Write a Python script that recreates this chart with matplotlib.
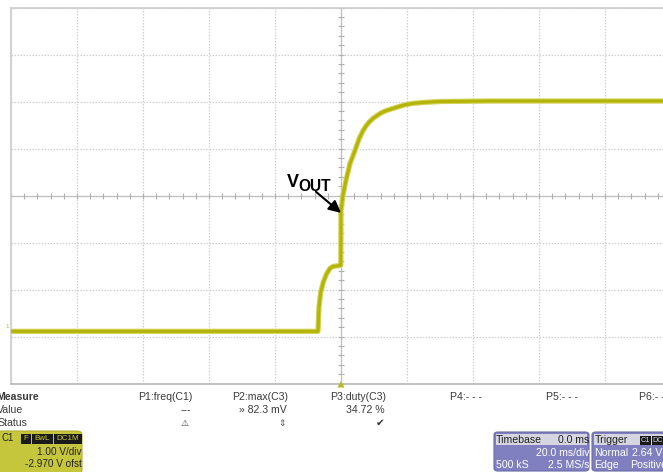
import matplotlib
matplotlib.use("Agg")
import matplotlib.pyplot as plt
import numpy as np
from matplotlib.patches import FancyBboxPatch, Rectangle, Polygon

W, H = 663, 472
plt.rcParams['font.family'] = ['Liberation Sans', 'DejaVu Sans']

time_ms = [-100, -6.97, -6.67, -6.15, -5.36, -4.33, -3.33, -2.42, -0.52, -0.05,
           0.0, 0.6, 1.5, 2.73, 4.24, 5.4, 6.67, 7.6, 8.5, 9.7, 10.9, 12.2, 13.5, 15.2,
           17.0, 19.4, 21.8, 25.0, 30.0, 45.0, 100]
volts = [0.08, 0.08, 0.60, 0.91, 1.13, 1.31, 1.42, 1.46, 1.48, 1.49,
         2.65, 2.98, 3.29, 3.65, 3.93, 4.16, 4.35, 4.45, 4.53, 4.61, 4.67, 4.73, 4.77, 4.81,
         4.85, 4.90, 4.93, 4.95, 4.97, 4.98, 4.98]

ms_per_div = 20.0
v_per_div = 1.00
offset_v = 2.970

measure_labels = ["P1:freq(C1)", "P2:max(C3)", "P3:duty(C3)", "P4:- - -", "P5:- - -", "P6:- - -"]
measure_values = ["---", "» 82.3 mV", "34.72 %", "", "", ""]

fig = plt.figure(figsize=(W / 100, H / 100), dpi=100)
fig.patch.set_facecolor('white')

def fx(x):
    return x / W

def fy(y):
    return 1 - y / H

left, top, right, bottom = 11, 7.5, 671, 383.5
ax = fig.add_axes([fx(left), fy(bottom), (right - left) / W, (bottom - top) / H])
x_lo, x_hi = -5 * ms_per_div, 5 * ms_per_div
y_lo, y_hi = offset_v - 4 * v_per_div, offset_v + 4 * v_per_div
ax.set_xlim(x_lo, x_hi)
ax.set_ylim(y_lo, y_hi)
ax.set_xticks(np.arange(x_lo, x_hi + 0.01, ms_per_div))
ax.set_yticks(y_lo + np.arange(0, 9) * v_per_div)
ax.tick_params(length=0, labelbottom=False, labelleft=False)
ax.grid(True, color='#d0d0d0', linestyle=(0, (1.2, 1.2)), linewidth=0.9)
for s in ['left', 'top']:
    ax.spines[s].set_color('#cccccc')
    ax.spines[s].set_linewidth(1.2)
ax.spines['bottom'].set_color('#b8b8b8')
ax.spines['bottom'].set_linewidth(1.2)
ax.spines['right'].set_visible(False)

# center axes with minor ticks
ax.axhline(offset_v, color='#c0c0c0', lw=0.9)
ax.axvline(0, color='#c0c0c0', lw=0.9)
xt = np.arange(x_lo, x_hi + 0.01, ms_per_div / 5)
ax.plot(xt, np.full_like(xt, offset_v), linestyle='none', marker='|', ms=4, mew=0.8, color='#b0b0b0')
yt = np.arange(y_lo, y_hi + 0.01, v_per_div / 5)
ax.plot(np.zeros_like(yt), yt, linestyle='none', marker='_', ms=4, mew=0.8, color='#b0b0b0')

# trace
ax.plot(time_ms, volts, color='#d2d25a', lw=3.8, solid_joinstyle='round', solid_capstyle='butt', zorder=5)
ax.plot(time_ms, volts, color='#b4b406', lw=2.2, solid_joinstyle='round', zorder=6)

# annotation arrow
ax.annotate('', xy=(0.0, 2.60), xytext=(-7.6, 3.05),
            arrowprops=dict(arrowstyle='-|>', color='black', lw=1.5, mutation_scale=18,
                            shrinkA=0, shrinkB=0), zorder=8)
fig.text(fx(286.5), fy(187), 'V', fontsize=13, fontweight='bold', color='black', ha='left', va='baseline')
fig.text(fx(298), fy(191), 'OUT', fontsize=11.2, fontweight='bold', color='black', ha='left', va='baseline')

# channel marker
fig.text(fx(5), fy(327), '1', fontsize=4.5, color='#b8b830', ha='left', va='center')

# trigger marker
fig.patches.append(Polygon([[fx(337.5), fy(387.5)], [fx(344.5), fy(387.5)], [fx(341), fy(381)]],
                           closed=True, transform=fig.transFigure, facecolor='#b8b82a', edgecolor='none'))

# measurement panel
txtc = '#3a3a3a'
fs = 7.6
fig.text(fx(-4), fy(397), 'Measure', fontsize=fs, fontweight='bold', color=txtc, ha='left', va='center')
fig.text(fx(-3), fy(410), 'Value', fontsize=fs, color=txtc, ha='left', va='center')
fig.text(fx(-3), fy(423), 'Status', fontsize=fs, color=txtc, ha='left', va='center')
lab_x = [138, 232, 330, 450, 546, 639]
val_r = [191, 287, 385]
for i, lab in enumerate(measure_labels):
    fig.text(fx(lab_x[i]), fy(397), lab, fontsize=fs, color=txtc, ha='left', va='center')
for i, v in enumerate(measure_values[:3]):
    fig.text(fx(val_r[i]), fy(410), v, fontsize=fs, color=txtc, ha='right', va='center')
# status icons
fig.text(fx(185), fy(423), '⚠', fontsize=6.5, color='#444444', ha='center', va='center', family='DejaVu Sans')
fig.text(fx(282), fy(423), '⇕', fontsize=6.5, color='#555555', ha='center', va='center', family='DejaVu Sans')
fig.text(fx(380), fy(423), '✔', fontsize=7.5, color='#333333', ha='center', va='center', family='DejaVu Sans')

# C1 box
c1 = FancyBboxPatch((fx(-4), fy(474)), fx(86), (474 - 431) / H, boxstyle='round,pad=0,rounding_size=0.008',
                    transform=fig.transFigure, facecolor='#c6c63c', edgecolor='#b0b030', lw=0.8)
fig.patches.append(c1)
fig.text(fx(1), fy(438), 'C1', fontsize=7, color='#222222', ha='left', va='center')
for (x0, x1, t) in [(21, 31, 'F'), (32, 53, 'BwL'), (54, 82, 'DC1M')]:
    fig.patches.append(Rectangle((fx(x0), fy(443.5)), fx(x1 - x0), 10 / H, transform=fig.transFigure,
                                 facecolor='#1a1a1a', edgecolor='none'))
    fig.text(fx((x0 + x1) / 2), fy(438.5), t, fontsize=5.8, color='#c6c63c', ha='center', va='center')
fig.text(fx(81.5), fy(452), '1.00 V/div', fontsize=7.2, color='#222222', ha='right', va='center')
fig.text(fx(81.5), fy(464), '-2.970 V ofst', fontsize=7.2, color='#222222', ha='right', va='center')

# Timebase / Trigger panels
purple = '#8080c0'
def panel(x0, x1):
    fig.patches.append(FancyBboxPatch((fx(x0), fy(471)), fx(x1 - x0), 39 / H,
                                      boxstyle='round,pad=0,rounding_size=0.006', transform=fig.transFigure,
                                      facecolor=purple, edgecolor='#6a6aa8', lw=0.8))
    fig.patches.append(Rectangle((fx(x0 + 2), fy(445)), fx(x1 - x0 - 4), 11 / H, transform=fig.transFigure,
                                 facecolor='#d6d6e2', edgecolor='none'))
panel(494, 589)
fig.text(fx(496), fy(440), 'Timebase', fontsize=fs, color='#222222', ha='left', va='center')
fig.text(fx(589), fy(440), '0.0 ms', fontsize=fs, color='#222222', ha='right', va='center')
fig.text(fx(589), fy(452.5), '20.0 ms/div', fontsize=fs, color='white', ha='right', va='center')
fig.text(fx(496), fy(464.5), '500 kS', fontsize=fs, color='white', ha='left', va='center')
fig.text(fx(589), fy(464.5), '2.5 MS/s', fontsize=fs, color='white', ha='right', va='center')

panel(592, 700)
fig.text(fx(595), fy(440), 'Trigger', fontsize=fs, color='#222222', ha='left', va='center')
for (x0, x1, t) in [(640, 651, 'C1'), (652, 663, 'DC')]:
    fig.patches.append(Rectangle((fx(x0), fy(444.5)), fx(x1 - x0), 9 / H, transform=fig.transFigure,
                                 facecolor='#1a1a1a', edgecolor='none'))
    fig.text(fx((x0 + x1) / 2), fy(440), t, fontsize=5.2, color='#d6d6e2', ha='center', va='center')
fig.text(fx(594), fy(452.5), 'Normal', fontsize=fs, color='white', ha='left', va='center')
fig.text(fx(632), fy(452.5), '2.64 V', fontsize=fs, color='white', ha='left', va='center')
fig.text(fx(594), fy(464.5), 'Edge', fontsize=fs, color='white', ha='left', va='center')
fig.text(fx(630), fy(464.5), 'Positive', fontsize=fs, color='white', ha='left', va='center')

fig.savefig('out.png', dpi=100)
